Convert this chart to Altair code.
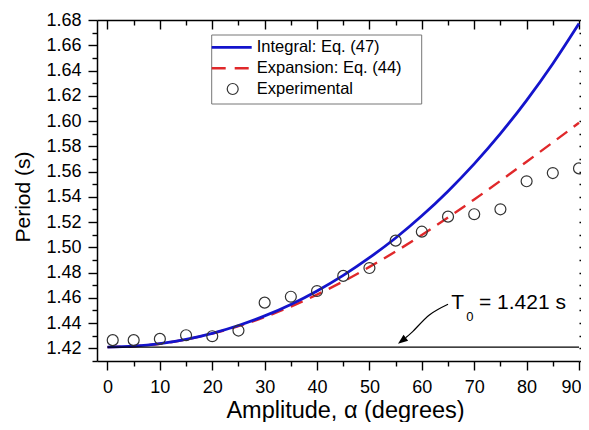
import altair as alt
import pandas as pd

# ---------------- data ----------------
S_INT = "Integral: Eq. (47)"
S_EXP = "Expansion: Eq. (44)"
S_DAT = "Experimental"
series_names = [S_INT, S_EXP, S_DAT]
series_colors = ["#1414cc", "#e0282a", "#333333"]

alpha_curve = [0, 5, 10, 15, 20, 25, 30, 35, 40, 45, 50, 55, 60, 65, 70, 75, 80, 85, 90]
integral_eq47 = [1.4210, 1.4217, 1.4237, 1.4271, 1.4319, 1.4381, 1.4457, 1.4548, 1.4655,
                 1.4778, 1.4918, 1.5074, 1.5250, 1.5445, 1.5661, 1.5900, 1.6164, 1.6454, 1.6772]
expansion_eq44 = [1.4210, 1.4217, 1.4237, 1.4271, 1.4317, 1.4376, 1.4448, 1.4531, 1.4626,
                  1.4730, 1.4845, 1.4967, 1.5098, 1.5236, 1.5379, 1.5527, 1.5678, 1.5831, 1.5986]

alpha_exp = [1, 5, 10, 15, 20, 25, 30, 35, 40, 45, 50, 55, 60, 65, 70, 75, 80, 85, 90]
period_exp = [1.4265, 1.4265, 1.4275, 1.4304, 1.4296, 1.4341, 1.4562, 1.4609, 1.4654,
              1.4774, 1.4836, 1.5053, 1.5124, 1.5243, 1.5262, 1.5301, 1.5523, 1.5588, 1.5625]

T0 = 1.421
t0_x = [0, 90]

arrow_x = [65.0, 61.5, 58.3, 56.9]
arrow_y = [1.4549, 1.4466, 1.4335, 1.4284]
head_x = [56.2]
head_y = [1.4260]
head_angle = [232]

note_text = ["T", "0", "= 1.421 s"]
note_x = [65.6, 68.5, 70.9]
note_y = [1.4508, 1.4414, 1.4508]
note_size = [21, 13, 21]

x_domain = [-2, 90]
y_domain = [1.41, 1.68]
x_major = [0, 10, 20, 30, 40, 50, 60, 70, 80, 90]
x_minor = [5, 15, 25, 35, 45, 55, 65, 75, 85]
y_major = [1.42, 1.44, 1.46, 1.48, 1.50, 1.52, 1.54, 1.56, 1.58, 1.60, 1.62, 1.64, 1.66, 1.68]
y_minor = [1.41, 1.43, 1.45, 1.47, 1.49, 1.51, 1.53, 1.55, 1.57, 1.59, 1.61, 1.63, 1.65, 1.67]

# ---------------- layout / style ----------------
W, H = 482, 341
FONT = "Liberation Sans"
LEG_LEFT, LEG_RIGHT, LEG_TOP, LEG_BOTTOM = 114.7, 324.7, 15, 84
LEG_ROW_Y = [27.3, 48.3, 69.0]
LEG_SYM_X0, LEG_SYM_X1, LEG_SYM_XC, LEG_TEXT_X = 114.7, 154.7, 135.7, 159.7

# ---------------- tables ----------------
df_int = pd.DataFrame({"alpha": alpha_curve, "period": integral_eq47})
df_exp = pd.DataFrame({"alpha": alpha_curve, "period": expansion_eq44})
df_dat = pd.DataFrame({"alpha": alpha_exp, "period": period_exp})
df_t0 = pd.DataFrame({"x": [t0_x[0]], "x2": [t0_x[1]], "y": [T0]})
df_arrow = pd.DataFrame({"x": arrow_x, "y": arrow_y, "i": list(range(len(arrow_x)))})
df_head = pd.DataFrame({"x": head_x, "y": head_y, "a": head_angle})
df_note = pd.DataFrame({"x": note_x, "y": note_y, "t": note_text, "s": note_size})
df_leg = pd.DataFrame({"label": series_names, "py": LEG_ROW_Y})
one = pd.DataFrame({"k": [0]})

xs = alt.Scale(domain=x_domain, nice=False, zero=False)
ys = alt.Scale(domain=y_domain, nice=False, zero=False)

common_axis = dict(grid=False, labelOverlap=False)

ax_bot_major = alt.Axis(orient="bottom", values=x_major, tickSize=9, labelPadding=8,
                        labelFlush=True, labelFlushOffset=2,
                        title="Amplitude, α (degrees)", titleFontSize=23.5,
                        titleX=248, titleY=56.5, titleBaseline="alphabetic", titleAlign="center",
                        domain=True, **common_axis)
ax_bot_minor = alt.Axis(orient="bottom", values=x_minor, tickSize=5, labels=False,
                        domain=False, title=None, **common_axis)
ax_top_major = alt.Axis(orient="bottom", offset=-H, values=x_major, tickSize=9, labels=False,
                        domain=True, title=None, **common_axis)
ax_top_minor = alt.Axis(orient="bottom", offset=-H, values=x_minor, tickSize=5, labels=False,
                        domain=False, title=None, **common_axis)

ay_left_major = alt.Axis(orient="left", values=y_major, format=".2f", tickSize=9, labelPadding=7,
                         labelFlush=False,
                         title="Period (s)", titleFontSize=21, titleAngle=270,
                         titleX=-67.5, titleY=176.5, titleBaseline="alphabetic", titleAlign="center",
                         domain=True, **common_axis)
ay_left_minor = alt.Axis(orient="left", values=y_minor, tickSize=5, labels=False,
                         domain=False, title=None, **common_axis)
ay_right_major = alt.Axis(orient="right", values=y_major, tickSize=9, labels=False,
                          domain=False, title=None, **common_axis)
ay_right_minor = alt.Axis(orient="right", values=y_minor, tickSize=5, labels=False,
                          domain=False, title=None, **common_axis)

# ---------------- data layers ----------------
red = alt.Chart(df_exp).mark_line(interpolate="monotone", color=series_colors[1],
                                  strokeWidth=2.4, strokeDash=[13, 8]).encode(
    x=alt.X("alpha:Q", scale=xs, axis=ax_bot_major),
    y=alt.Y("period:Q", scale=ys, axis=ay_left_major),
)
blue = alt.Chart(df_int).mark_line(interpolate="monotone", color=series_colors[0],
                                   strokeWidth=2.8).encode(
    x=alt.X("alpha:Q", scale=xs, axis=ax_bot_minor),
    y=alt.Y("period:Q", scale=ys, axis=ay_left_minor),
)
pts = alt.Chart(df_dat).mark_point(filled=False, size=120, strokeWidth=1.2, opacity=1,
                                   color=series_colors[2]).encode(
    x=alt.X("alpha:Q", scale=xs, axis=ax_top_major),
    y=alt.Y("period:Q", scale=ys, axis=ay_right_major),
)
rule = alt.Chart(df_t0).mark_rule(color="black", strokeWidth=1.3).encode(
    x=alt.X("x:Q", scale=xs, axis=ax_top_minor),
    x2="x2:Q",
    y=alt.Y("y:Q", scale=ys, axis=ay_right_minor),
)
arrow = alt.Chart(df_arrow).mark_line(color="black", strokeWidth=1.2, interpolate="cardinal").encode(
    x=alt.X("x:Q", scale=xs, axis=None),
    y=alt.Y("y:Q", scale=ys, axis=None),
    order="i:Q",
)
head = alt.Chart(df_head).mark_point(shape="M0,-1L0.75,1L-0.75,1Z", filled=True, color="black",
                                     size=100, opacity=1).encode(
    x=alt.X("x:Q", scale=xs, axis=None),
    y=alt.Y("y:Q", scale=ys, axis=None),
    angle=alt.Angle("a:Q", scale=None),
)
note = alt.Chart(df_note).mark_text(align="left", baseline="alphabetic", font=FONT, color="black").encode(
    x=alt.X("x:Q", scale=xs, axis=None),
    y=alt.Y("y:Q", scale=ys, axis=None),
    text="t:N",
    size=alt.Size("s:Q", scale=None, legend=None),
)

# ---------------- legend (drawn as annotation) ----------------
leg_box = alt.Chart(one).mark_rect(fill="white", stroke="#777777", strokeWidth=1).encode(
    x=alt.value(LEG_LEFT), x2=alt.value(LEG_RIGHT), y=alt.value(LEG_TOP), y2=alt.value(LEG_BOTTOM))
leg_blue = alt.Chart(one).mark_rule(color=series_colors[0], strokeWidth=2.8).encode(
    x=alt.value(LEG_SYM_X0), x2=alt.value(LEG_SYM_X1), y=alt.value(LEG_ROW_Y[0]))
leg_red = alt.Chart(one).mark_rule(color=series_colors[1], strokeWidth=2.4, strokeDash=[14, 9]).encode(
    x=alt.value(LEG_SYM_X0), x2=alt.value(LEG_SYM_X1), y=alt.value(LEG_ROW_Y[1]))
leg_circ = alt.Chart(one).mark_point(filled=False, size=120, strokeWidth=1.2, opacity=1,
                                     color=series_colors[2]).encode(
    x=alt.value(LEG_SYM_XC), y=alt.value(LEG_ROW_Y[2]))
leg_text = alt.Chart(df_leg).mark_text(align="left", baseline="middle", font=FONT, fontSize=16.5,
                                       color="black").encode(
    x=alt.value(LEG_TEXT_X),
    y=alt.Y("py:Q", scale=None, axis=None),
    text="label:N",
)

chart = alt.layer(red, blue, pts, rule, arrow, head, note,
                  leg_box, leg_blue, leg_red, leg_circ, leg_text).resolve_axis(
    x="independent", y="independent"
).properties(
    width=W, height=H,
    autosize=alt.AutoSizeParams(type="none"),
    padding={"left": 89, "top": 12, "right": 2, "bottom": 61},
    background="white",
).configure_view(strokeWidth=0).configure_axis(
    labelFont=FONT, titleFont=FONT, labelFontSize=18, labelColor="black",
    titleColor="black", titleFontWeight="normal", tickColor="black", domainColor="black",
    tickWidth=1.4, domainWidth=1.5,
)

chart.save("out.html", embed_options={"renderer": "svg", "actions": False})
